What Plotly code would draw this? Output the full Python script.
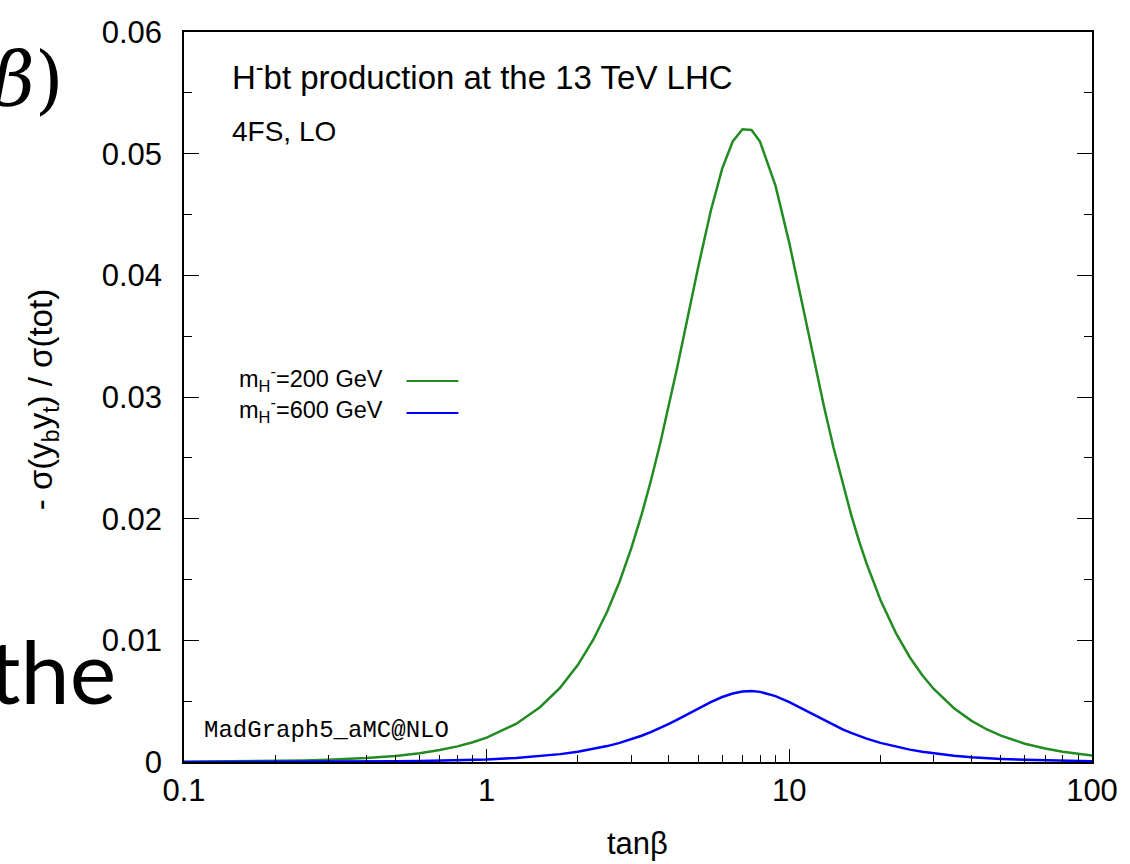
import plotly.graph_objects as go

tanb = [0.1, 0.15, 0.2, 0.25, 0.3, 0.4, 0.5, 0.6, 0.7, 0.8, 0.9, 1, 1.25, 1.5, 1.75, 2,
        2.25, 2.5, 2.75, 3, 3.25, 3.5, 3.75, 4, 4.25, 4.5, 4.75, 5, 5.5, 6, 6.5, 7, 7.5,
        8, 9, 10, 11, 12, 13, 14, 15, 16, 17, 18, 20, 22.5, 25, 27.5, 30, 35, 40, 45,
        50, 60, 70, 80, 100]

ratio_m200 = [0.0000200, 0.0000451, 0.0000802, 0.0001252, 0.000180, 0.0003206, 0.000501,
              0.0007214, 0.000982, 0.0012823, 0.0016228, 0.002003, 0.003128, 0.004501,
              0.006115, 0.007968, 0.010049, 0.01235, 0.014841, 0.01751, 0.020328, 0.02326,
              0.026260, 0.02929, 0.032300, 0.03524, 0.038043, 0.04069, 0.04529, 0.04877,
              0.05100, 0.05201, 0.05194, 0.05100, 0.04737, 0.04265, 0.03780, 0.03329,
              0.029288, 0.02583, 0.022861, 0.02033, 0.018160, 0.01630, 0.01332, 0.010591,
              0.008611, 0.007131, 0.006000, 0.004415, 0.003383, 0.002674, 0.002166,
              0.001505, 0.001106, 0.000846, 0.000542]

ratio_m600 = [0.00000212, 0.00000477, 0.00000848, 0.00001325, 0.0000191, 0.00003392,
              0.0000530, 0.00007631, 0.0001039, 0.00013566, 0.00017169, 0.0002119,
              0.0003310, 0.0004763, 0.0006472, 0.000844, 0.0010642, 0.001308, 0.0015735,
              0.001858, 0.0021596, 0.002474, 0.0027982, 0.003128, 0.0034568, 0.003781,
              0.0040941, 0.004393, 0.004924, 0.005343, 0.005633, 0.005791, 0.005829,
              0.005764, 0.005419, 0.004924, 0.004393, 0.003887, 0.0034314, 0.003033,
              0.0026897, 0.002395, 0.0021415, 0.001924, 0.001574, 0.0012520, 0.001018,
              0.0008435, 0.000710, 0.000522, 0.000400, 0.0003164, 0.000256, 0.000178,
              0.000131, 0.000100, 0.0000641]

x_tickvals = [0.1, 1, 10, 100]
x_ticktext = ["0.1", "1", "10", "100"]
y_tickvals = [0, 0.01, 0.02, 0.03, 0.04, 0.05, 0.06]
y_ticktext = ["0", "0.01", "0.02", "0.03", "0.04", "0.05", "0.06"]

series_names = ["m<sub>H</sub><sup>-</sup>=200 GeV", "m<sub>H</sub><sup>-</sup>=600 GeV"]
GREEN = "#228b22"
BLUE = "#0000ff"
FONT = "Liberation Sans, Arial, Helvetica, sans-serif"

fig = go.Figure()
fig.add_trace(go.Scatter(x=tanb, y=ratio_m200, mode="lines", name=series_names[0],
                         line=dict(color=GREEN, width=2.5), showlegend=False))
fig.add_trace(go.Scatter(x=tanb, y=ratio_m600, mode="lines", name=series_names[1],
                         line=dict(color=BLUE, width=2.5), showlegend=False))

fig.update_layout(
    width=1130, height=864,
    margin=dict(l=184, r=36, t=32, b=102),
    paper_bgcolor="white", plot_bgcolor="white",
    font=dict(family=FONT, color="black", size=30),
    xaxis=dict(type="log", range=[-1, 2], tickvals=x_tickvals, ticktext=x_ticktext,
               ticks="inside", ticklen=13, tickwidth=1.2, tickcolor="black",
               showline=True, linecolor="black", linewidth=1.5, mirror=True,
               showgrid=False, zeroline=False, ticklabelstandoff=0,
               tickfont=dict(size=31),
               minor=dict(ticks="inside", ticklen=7, tickwidth=1.2, tickcolor="black",
                          dtick="D1", showgrid=False)),
    yaxis=dict(range=[0, 0.06], tickvals=y_tickvals, ticktext=y_ticktext,
               ticks="inside", ticklen=15, tickwidth=1.2, tickcolor="black",
               showline=True, linecolor="black", linewidth=1.5, mirror="ticks",
               showgrid=False, zeroline=False, ticklabelstandoff=14,
               tickfont=dict(size=31),
               minor=dict(ticks="inside", ticklen=8, tickwidth=1.2, tickcolor="black",
                          dtick=0.005, showgrid=False)),
)

ann = [
    dict(text="H<sup>-</sup>bt production at the 13 TeV LHC", x=0.0505, y=0.941,
         xanchor="left", yanchor="middle", font=dict(size=33)),
    dict(text="4FS, LO", x=0.0505, y=0.864, xanchor="left", yanchor="middle",
         font=dict(size=28)),
    dict(text=series_names[0], x=0.2209, y=0.526, xanchor="right", yanchor="middle",
         font=dict(size=23.5)),
    dict(text=series_names[1], x=0.2209, y=0.4822, xanchor="right", yanchor="middle",
         font=dict(size=23.5)),
    dict(text="MadGraph5_aMC@NLO", x=0.0198, y=0.0438, xanchor="left", yanchor="middle",
         font=dict(size=24, family="Courier New, Liberation Mono, monospace")),
    dict(text="tanβ", x=0.499, y=-0.111, xanchor="center", yanchor="middle",
         font=dict(size=31)),
    dict(text="- σ(y<sub>b</sub>y<sub>t</sub>) / σ(tot)", x=-0.155, y=0.496,
         xanchor="center", yanchor="middle", textangle=-90, font=dict(size=33)),
    dict(text="<i>β</i>)", x=-0.1297, y=0.9356, xanchor="right", yanchor="middle",
         font=dict(size=74, family="DejaVu Serif, serif")),
    dict(text="the", x=-0.0725, y=0.126, xanchor="right", yanchor="middle",
         font=dict(size=88, family="Lato, Open Sans, sans-serif")),
]
for a in ann:
    a.update(xref="paper", yref="paper", showarrow=False)
fig.update_layout(annotations=ann)

fig.add_shape(type="line", xref="paper", yref="paper", x0=0.2451, x1=0.3022,
              y0=0.5219, y1=0.5219, line=dict(color=GREEN, width=2))
fig.add_shape(type="line", xref="paper", yref="paper", x0=0.2451, x1=0.3022,
              y0=0.4781, y1=0.4781, line=dict(color=BLUE, width=2))

fig.write_html("out.html")
